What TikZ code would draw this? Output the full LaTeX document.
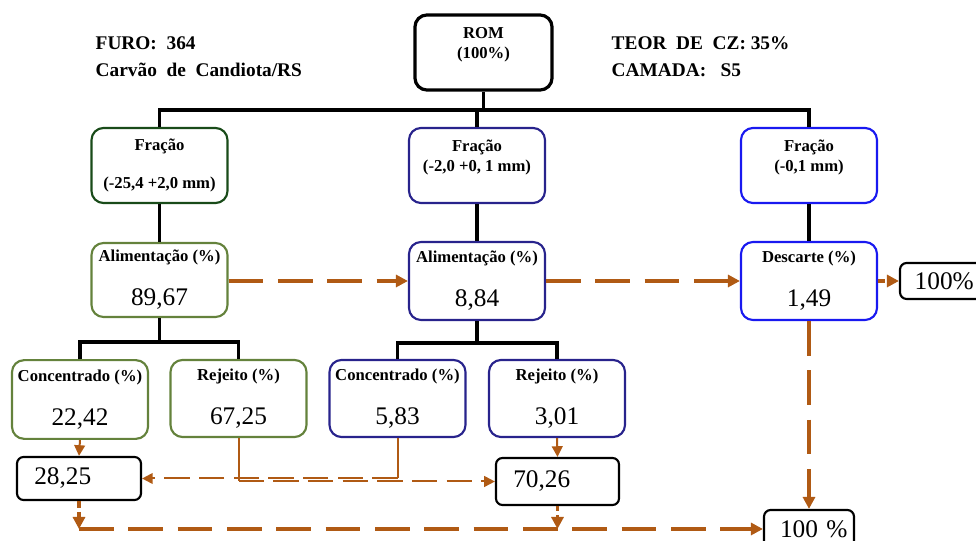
\documentclass[tikz,border=0pt]{standalone}
\usepackage{fontspec}
\setmainfont{Liberation Serif}
\usetikzlibrary{arrows.meta}

% title line and value line of a stage box
\newcommand{\stageval}[2]{{\fontsize{12.5}{14}\selectfont\bfseries #1}\\#2}

\begin{document}
\begin{tikzpicture}[x=0.75pt,y=-0.75pt,
    fracbox/.style={draw,line width=1.6pt,rounded corners=9pt,align=center,inner sep=0pt,
      minimum width=102pt,minimum height=56.3pt,font=\fontsize{12.5}{15}\selectfont\bfseries},
    stagebox/.style={draw,line width=1.6pt,rounded corners=9pt,align=center,inner sep=0pt,
      minimum width=102pt,font=\fontsize{19}{33}\selectfont},
    resbox/.style={draw=black,line width=1.6pt,rounded corners=5pt,align=left,inner xsep=13pt,
      inner ysep=0pt,font=\fontsize{19}{20}\selectfont},
    tree/.style={line width=2.6pt},
    flow/.style={draw=r176g90b20,line width=2.3pt,dash pattern=on 26pt off 11pt,
      -{Triangle[length=9pt,width=9pt]}},
    thinflow/.style={draw=r176g90b20,line width=1.5pt,dash pattern=on 19pt off 7pt,
      -{Triangle[length=8pt,width=8pt]}},
    thinline/.style={draw=r176g90b20,line width=1.5pt}
  ]
  \useasboundingbox (0,0) rectangle (976,541);

  % Changing colors
  \definecolor{r25g75b25}{RGB}{25,75,25}%
  \definecolor{r100g130b60}{RGB}{100,130,60}%
  \definecolor{r40g35b140}{RGB}{40,35,140}%
  \definecolor{r25g25b240}{RGB}{25,25,240}%
  \definecolor{r176g90b20}{RGB}{176,90,20}%

  % Writing header texts
  \node[anchor=west,align=left,font=\fontsize{14.5}{20}\selectfont\bfseries] (furo) at (91,57)
    {FURO:\ \ 364\\Carvão\ \ de\ \ Candiota/RS};
  \node[anchor=west,align=left,font=\fontsize{14.5}{20}\selectfont\bfseries] (teor) at (607,57)
    {TEOR\ \ DE\ \ CZ: 35\%\\CAMADA:\ \ \ S5};

  % Drawing box ROM
  \node[fracbox,line width=2.4pt,minimum width=102.8pt] (rom) at (483.5,52.5) {ROM\\(100\%)\\\mbox{}};

  % Drawing boxes Fracao
  \node[fracbox,draw=r25g75b25] (fracG) at (159.5,165.5) {Fração\\[14pt](-25,4 +2,0 mm)};
  \node[fracbox,draw=r40g35b140] (fracM) at (477,165.5) {Fração\\(-2,0 +0, 1 mm)\\\mbox{}};
  \node[fracbox,draw=r25g25b240] (fracR) at (809,165.5) {Fração\\(-0,1 mm)\\\mbox{}};

  % Drawing boxes Alimentacao and Descarte
  \node[stagebox,draw=r100g130b60,minimum height=55.5pt] (alimG) at (159.5,280) {\stageval{Alimentação (\%)}{89,67}};
  \node[stagebox,draw=r40g35b140,minimum height=58.5pt] (alimM) at (477,281) {\stageval{Alimentação (\%)}{8,84}};
  \node[stagebox,draw=r25g25b240,minimum height=58.5pt] (desc) at (809,281) {\stageval{Descarte (\%)}{1,49}};

  % Drawing boxes Concentrado and Rejeito
  \node[stagebox,draw=r100g130b60,minimum height=59pt] (concG) at (80,399.5) {\stageval{Concentrado (\%)}{22,42}};
  \node[stagebox,draw=r100g130b60,minimum height=57.8pt] (rejG) at (238.5,398.5) {\stageval{Rejeito (\%)}{67,25}};
  \node[stagebox,draw=r40g35b140,minimum height=57.8pt] (concB) at (397.5,398.5) {\stageval{Concentrado (\%)}{5,83}};
  \node[stagebox,draw=r40g35b140,minimum height=57.8pt] (rejB) at (557,398.5) {\stageval{Rejeito (\%)}{3,01}};

  % Drawing result boxes
  \node[resbox,text width=67pt,minimum height=32.3pt] (res1) at (79,478.5) {\mbox{28,25}};
  \node[resbox,text width=66.3pt,minimum height=35.3pt] (res2) at (557.5,481.5) {\mbox{70,26}};
  \node[resbox,inner xsep=11pt,text width=45.5pt,minimum height=27pt] (out1) at (945,281) {\mbox{100\%}};
  \node[resbox,inner xsep=7pt,text width=53.5pt,minimum height=28.5pt] (out2) at (809,529) {\hspace*{5pt}\mbox{100 \%}};

  % Drawing tree lines
  \coordinate (romBus) at (483.5,110);
  \draw[tree] (rom.south) -- (romBus);
  \draw[tree] (fracG.north) |- (romBus) -| (fracR.north);
  \draw[tree] (fracM.north) -- (fracM.north |- romBus);
  \draw[tree] (fracG.south) -- (alimG.north);
  \draw[tree] (fracM.south) -- (alimM.north);
  \draw[tree] (fracR.south) -- (desc.north);
  \draw[tree] (alimG.south) -- ++(0,24) coordinate (busG);
  \draw[tree] (concG.north) |- (busG) -| (rejG.north);
  \draw[tree] (alimM.south) -- ++(0,22) coordinate (busM);
  \draw[tree] (concB.north) |- (busM) -| (rejB.north);

  % Drawing flow arrows
  \draw[flow] (alimG.east |- alimM.west) -- (alimM.west);
  \draw[flow] (alimM.east) -- (desc.west);
  \draw[flow,dash pattern=on 5pt off 3pt] (desc.east) -- (out1.west);
  \draw[flow] (desc.south) -- (out2.north);

  \draw[thinflow,solid] (concG.south) -- (res1.north);
  \draw[thinline] (concB.south) -- (concB.south |- res1.east);
  \draw[thinflow] (concB.south |- res1.east) -- (res1.east);
  \draw[thinline] (rejG.south) -- (rejG.south |- res2.west);
  \draw[thinflow] (rejG.south |- res2.west) -- (res2.west);
  \draw[thinflow,solid] (rejB.south) -- (res2.north);

  \coordinate (botL) at (res1.south |- out2.west);
  \draw[flow,dash pattern=on 5pt off 3pt] (res1.south) -- (botL);
  \draw[flow] (botL) -- (out2.west);
  \draw[flow,dash pattern=on 4pt off 3pt] (res2.south) -- (res2.south |- out2.west);
\end{tikzpicture}
\end{document}
